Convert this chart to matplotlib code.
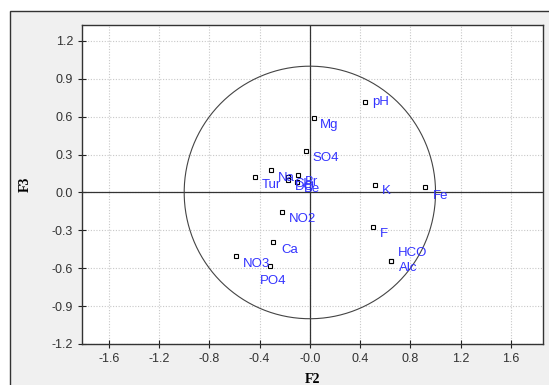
import matplotlib
matplotlib.use("Agg")
import matplotlib.pyplot as plt
import numpy as np
from matplotlib.patches import Rectangle

labels = ["pH", "Mg", "SO4", "K", "Fe", "F", "HCO", "Alc", "NO2", "Ca", "NO3", "PO4",
          "Tur", "Na", "Cl", "Br", "DO", "Be"]
f2 = [0.44, 0.03, -0.03, 0.52, 0.915, 0.50, 0.645, 0.645, -0.22, -0.29, -0.59, -0.32,
      -0.435, -0.31, -0.175, -0.095, -0.175, -0.10]
f3 = [0.72, 0.59, 0.33, 0.06, 0.04, -0.27, -0.54, -0.54, -0.155, -0.395, -0.50, -0.58,
      0.12, 0.18, 0.125, 0.14, 0.095, 0.08]
# label offsets in pixels (dx, dy) — style only
offsets = [(7, 0), (6, -7), (6, -7), (7, -6), (8, -9), (7, -7), (7, 8), (8, -7),
           (7, -7), (8, -8), (7, -8), (-10, -15), (7, -8), (7, -8), (7, -7), (7, -7),
           (7, -7), (7, -7)]

xticks = [-1.6, -1.2, -0.8, -0.4, 0.0, 0.4, 0.8, 1.2, 1.6]
xticklabels = ["-1.6", "-1.2", "-0.8", "-0.4", "-0.0", "0.4", "0.8", "1.2", "1.6"]
yticks = [-1.2, -0.9, -0.6, -0.3, 0.0, 0.3, 0.6, 0.9, 1.2]
yticklabels = ["-1.2", "-0.9", "-0.6", "-0.3", "0.0", "0.3", "0.6", "0.9", "1.2"]

plt.rcParams['font.family'] = ['Liberation Sans', 'DejaVu Sans']

fig = plt.figure(figsize=(5.49, 3.85), dpi=100)
fig.patch.set_facecolor('white')
# gray panel with border
fig.patches.append(Rectangle((10 / 549, -0.01), 1.0, 1.01 - 11 / 385, transform=fig.transFigure,
                             facecolor='#f0f0f0', edgecolor='#333333', linewidth=1.0,
                             zorder=-5))

ax = fig.add_axes([82 / 549, 41 / 385, 461 / 549, (344 - 24.5) / 385])
ax.set_zorder(2)
ax.set_facecolor('white')
ax.set_xlim(-1.813, 1.855)
ax.set_ylim(-1.2, 1.33)

ax.set_xticks(xticks)
ax.set_xticklabels(xticklabels)
ax.set_yticks(yticks)
ax.set_yticklabels(yticklabels)
ax.tick_params(direction='inout', length=6, width=0.8, colors='#222222',
               labelsize=9, labelcolor='#333333')
ax.grid(True, linestyle=(0, (1, 1.5)), color='#c8c8c8', linewidth=0.8)
for s in ax.spines.values():
    s.set_color('#333333')
    s.set_linewidth(1.0)

ax.axhline(0, color='#333333', linewidth=0.9, zorder=2)
ax.axvline(0, color='#333333', linewidth=0.9, zorder=2)

t = np.linspace(0, 2 * np.pi, 400)
ax.plot(np.cos(t), np.sin(t), color='#444444', linewidth=0.8, zorder=2)

ax.plot(f2, f3, linestyle='none', marker='s', ms=3.5, mfc='white', mec='black',
        mew=0.8, zorder=3)
for lab, x, y, (dx, dy) in zip(labels, f2, f3, offsets):
    ax.annotate(lab, (x, y), xytext=(dx, dy), textcoords='offset pixels',
                color='#3333ff', fontsize=9.5, ha='left', va='center', zorder=4)

ax.set_xlabel("F2", fontfamily='Liberation Serif', fontweight='bold', fontsize=10,
              labelpad=6)
ax.set_ylabel("F3", fontfamily='Liberation Serif', fontweight='bold', fontsize=10,
              labelpad=14)

fig.savefig("out.png", dpi=100)
